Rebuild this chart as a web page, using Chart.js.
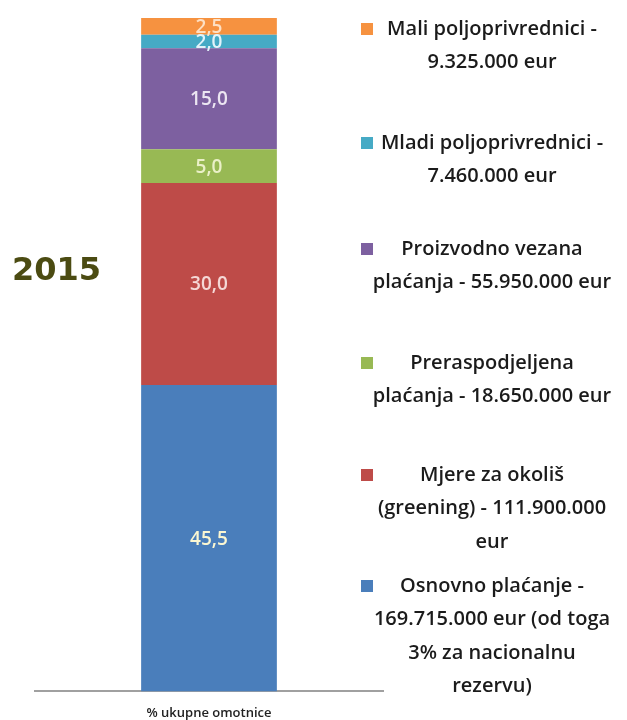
<!DOCTYPE html>
<html>
<head>
<meta charset="utf-8">
<script src="https://cdn.jsdelivr.net/npm/chart.js@4/dist/chart.umd.min.js"></script>
<style>
  html, body { margin: 0; padding: 0; background: #fff; }
  #wrap { position: relative; width: 627px; height: 720px; overflow: hidden; }
  #year { position: absolute; left: 12px; top: 250px; font: bold 32px "DejaVu Sans", Verdana, sans-serif; color: #4b4b12; }
</style>
</head>
<body>
<div id="wrap">
  <canvas id="myChart" width="627" height="720"></canvas>
  <div id="year">2015</div>
</div>
<script>
// podaci
const categories = ['% ukupne omotnice'];
const seriesNames = ['Osnovno plaćanje', 'Mjere za okoliš (greening)', 'Preraspodjeljena plaćanja', 'Proizvodno vezana plaćanja', 'Mladi poljoprivrednici', 'Mali poljoprivrednici'];
const shares = [45.5, 30.0, 5.0, 15.0, 2.0, 2.5];
const legendLines = [
  ['Osnovno plaćanje -', '169.715.000 eur (od toga', '3% za nacionalnu', 'rezervu)'],
  ['Mjere za okoliš', '(greening) - 111.900.000', 'eur'],
  ['Preraspodjeljena', 'plaćanja - 18.650.000 eur'],
  ['Proizvodno vezana', 'plaćanja - 55.950.000 eur'],
  ['Mladi poljoprivrednici -', '7.460.000 eur'],
  ['Mali poljoprivrednici -', '9.325.000 eur']
];

const barColors = ['#4a7ebb', '#be4b48', '#98b954', '#7d60a0', '#46aac5', '#f69240'];
const labelColors = ['#fbf7d2', '#f5d8d6', '#eaf0c8', '#ece6f2', '#e2f4fa', '#fde0c4'];

// tekst unutar stupca
const barLabels = {
  id: 'barLabels',
  afterDatasetsDraw(chart) {
    const ctx = chart.ctx;
    ctx.save();
    ctx.font = '600 19px "Open Sans", sans-serif';
    ctx.textAlign = 'center';
    ctx.textBaseline = 'middle';
    chart.data.datasets.forEach(function(ds, i) {
      chart.getDatasetMeta(i).data.forEach(function(bar, j) {
        const v = ds.data[j];
        ctx.fillStyle = labelColors[i];
        ctx.fillText(v.toFixed(1).replace('.', ','), bar.x, (bar.y + bar.base) / 2 + 1);
      });
    });
    ctx.restore();
  }
};

// legenda desno, obrnutim redom
const sideLegend = {
  id: 'sideLegend',
  afterDraw(chart) {
    const ctx = chart.ctx;
    const tops = [586, 475, 363, 249, 143, 29];
    const step = 33.5;
    ctx.save();
    ctx.font = '600 20px "Open Sans", sans-serif';
    ctx.textBaseline = 'middle';
    ctx.textAlign = 'center';
    legendLines.forEach(function(lines, i) {
      ctx.fillStyle = barColors[i];
      ctx.fillRect(361, tops[i] - 6, 12, 12);
      ctx.fillStyle = '#1b1b1b';
      lines.forEach(function(t, k) {
        ctx.fillText(t, 492, tops[i] + k * step);
      });
    });
    ctx.restore();
  }
};

const ctx = document.getElementById('myChart');

new Chart(ctx, {
  type: 'bar',
  data: {
    labels: categories,
    datasets: seriesNames.map(function(name, i) {
      return {
        label: name,
        data: [shares[i]],
        backgroundColor: barColors[i],
        borderWidth: 0,
        barPercentage: 0.39,
        categoryPercentage: 1
      };
    })
  },
  options: {
    responsive: false,
    animation: false,
    layout: { padding: { left: 35, right: 244, top: 18, bottom: -7 } },
    plugins: {
      legend: { display: false },
      tooltip: { enabled: false }
    },
    scales: {
      x: {
        stacked: true,
        grid: { display: false },
        border: { display: true, color: '#a0a0a0', width: 2 },
        ticks: { color: '#222', font: { family: 'Open Sans', size: 13, weight: '600' }, padding: 6 }
      },
      y: {
        stacked: true,
        display: false,
        min: 0,
        max: 100
      }
    }
  },
  plugins: [barLabels, sideLegend]
});
</script>
</body>
</html>
